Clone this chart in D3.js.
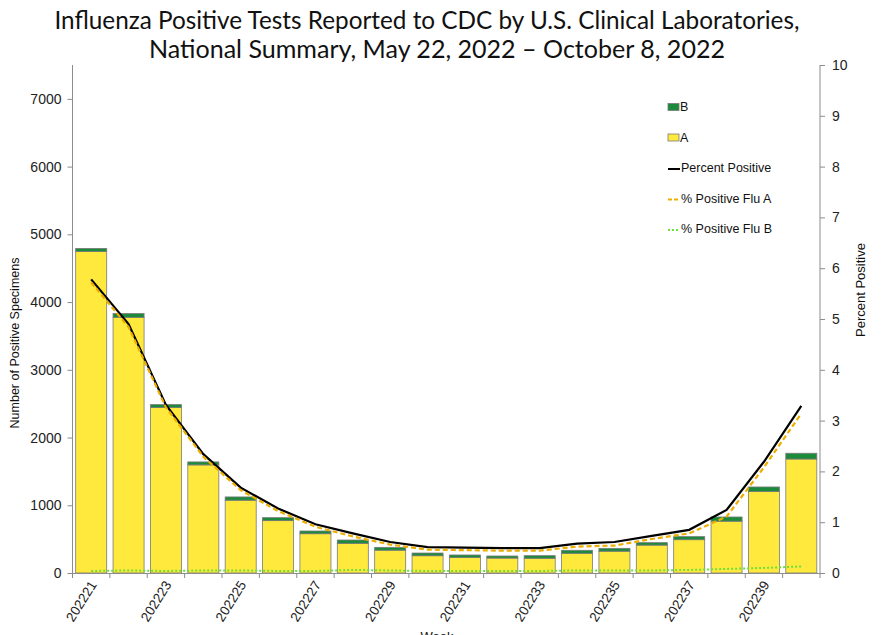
<!DOCTYPE html>
<html><head><meta charset="utf-8">
<script src="https://cdn.jsdelivr.net/npm/d3@7"></script>
<style>body{margin:0;background:#fff}svg{display:block}</style>
</head><body>
<svg id="c" width="884" height="635"></svg>
<script>
const weeks = ["202221","202222","202223","202224","202225","202226","202227","202228","202229","202230","202231","202232","202233","202234","202235","202236","202237","202238","202239","202240"];
const fluA = [4747,3775,2442,1596,1075,773,580,438,337,255,231,221,218,291,322,412,492,765,1205,1683];
const fluB = [45,55,44,44,48,44,40,49,42,40,35,30,38,44,42,36,45,62,65,85];
const pctPositive = [5.78,4.90,3.31,2.34,1.68,1.27,0.96,0.78,0.61,0.51,0.50,0.49,0.49,0.58,0.61,0.73,0.85,1.24,2.19,3.29];
const pctFluA = [5.72,4.84,3.26,2.29,1.63,1.22,0.91,0.72,0.56,0.46,0.45,0.44,0.44,0.52,0.54,0.67,0.78,1.11,2.08,3.14];
const pctFluB = [0.04,0.05,0.04,0.05,0.05,0.04,0.04,0.06,0.05,0.04,0.04,0.04,0.04,0.05,0.05,0.05,0.06,0.08,0.10,0.13];
const leftTicks = [0,1000,2000,3000,4000,5000,6000,7000];
const rightTicks = [0,1,2,3,4,5,6,7,8,9,10];
const labelWeeks = ["202221","202223","202225","202227","202229","202231","202233","202235","202237","202239"];

const svg = d3.select("#c");
const L = 72.5, R = 820, T = 65, B = 573;
const x = d3.scaleBand().domain(weeks).range([L, R]).paddingInner(0.17).paddingOuter(0.085);
const xb = d3.scaleBand().domain(weeks).range([L, R]);
const yL = d3.scaleLinear().domain([0, 7500]).range([B, T]);
const yR = d3.scaleLinear().domain([0, 10]).range([B, T]);
const font = "'Liberation Sans', Arial, sans-serif";
const gray = "#8c8c8c";

// Title
const title = svg.append("g").attr("font-family", "Lato, 'Open Sans', sans-serif").attr("fill", "#111").attr("font-size", 25.5);
title.append("text").attr("x", 427).attr("y", 29).attr("text-anchor", "middle")
  .attr("textLength", 745).attr("lengthAdjust", "spacingAndGlyphs")
  .text("Influenza Positive Tests Reported to CDC by U.S. Clinical Laboratories,");
title.append("text").attr("x", 437).attr("y", 58).attr("text-anchor", "middle")
  .attr("textLength", 576).attr("lengthAdjust", "spacingAndGlyphs")
  .text("National Summary, May 22, 2022 \u2013 October 8, 2022");

// Bars
const stackData = weeks.map((w, i) => ({week: w, A: fluA[i], B: fluB[i]}));
const stack = d3.stack().keys(["A", "B"])(stackData);
const colors = {A: "#FFE93C", B: "#1B8A3A"};
svg.append("g").selectAll("g").data(stack).join("g")
  .attr("fill", d => colors[d.key])
  .selectAll("rect").data(d => d).join("rect")
  .attr("x", d => x(d.data.week))
  .attr("width", x.bandwidth())
  .attr("y", d => yL(d[1]))
  .attr("height", d => yL(d[0]) - yL(d[1]))
  .attr("stroke", "#7a7a7a").attr("stroke-width", 0.8);

// Lines
const cx = w => xb(w) + xb.bandwidth() / 2;
const line = d3.line().x((d, i) => cx(weeks[i])).y(d => yR(d));
svg.append("path").datum(pctFluB).attr("d", line).attr("fill", "none")
  .attr("stroke", "#6BE03A").attr("stroke-width", 2).attr("stroke-dasharray", "2,2");
svg.append("path").datum(pctPositive).attr("d", line).attr("fill", "none")
  .attr("stroke", "#000").attr("stroke-width", 2.2);
svg.append("path").datum(pctFluA).attr("d", line).attr("fill", "none")
  .attr("stroke", "#EDAE00").attr("stroke-width", 2.2).attr("stroke-dasharray", "5,3");

// Axes
const axL = svg.append("g").attr("transform", `translate(${L},0)`)
  .call(d3.axisLeft(yL).tickValues(leftTicks).tickSize(5).tickPadding(6).tickFormat(d3.format("d")));
const axR = svg.append("g").attr("transform", `translate(${R},0)`)
  .call(d3.axisRight(yR).tickValues(rightTicks).tickSize(5).tickPadding(7));
const axB = svg.append("g").attr("transform", `translate(0,${B})`)
  .call(d3.axisBottom(xb).tickValues([]).tickSizeOuter(0));
axB.selectAll(".bt").data(weeks.concat(["end"])).join("line").attr("class", "bt")
  .attr("x1", (d, i) => L + i * xb.step()).attr("x2", (d, i) => L + i * xb.step())
  .attr("y1", 0).attr("y2", 5).attr("stroke", gray);
axB.selectAll(".lbl").data(labelWeeks).join("text").attr("class", "lbl")
  .attr("transform", d => `translate(${cx(d) + 2},${9}) rotate(-58)`)
  .attr("text-anchor", "end").attr("dy", "0.35em")
  .attr("font-family", font).attr("font-size", 13.5).attr("fill", "#222").text(d => d);

[axL, axR, axB].forEach(a => {
  a.selectAll("path.domain").attr("stroke", gray);
  a.selectAll(".tick line").attr("stroke", gray);
  a.selectAll(".tick text").attr("font-family", font).attr("font-size", 14).attr("fill", "#222");
});
axL.select("path.domain").attr("d", `M0,${T}V${B + 4}`);
axR.select("path.domain").attr("d", `M0,${T}V${B}`);

// Axis titles
svg.append("text").attr("transform", "translate(19,343) rotate(-90)").attr("text-anchor", "middle")
  .attr("font-family", font).attr("font-size", 12.5).attr("fill", "#111").text("Number of Positive Specimens");
svg.append("text").attr("transform", "translate(865,290) rotate(-90)").attr("text-anchor", "middle")
  .attr("font-family", font).attr("font-size", 13).attr("fill", "#111").text("Percent Positive");
svg.append("text").attr("x", 437).attr("y", 641).attr("text-anchor", "middle")
  .attr("font-family", font).attr("font-size", 13).attr("fill", "#111").text("Week");

// Legend
const legendItems = [
  {label: "B", type: "rect", color: colors.B},
  {label: "A", type: "rect", color: colors.A},
  {label: "Percent Positive", type: "line", color: "#000", dash: null},
  {label: "% Positive Flu A", type: "line", color: "#EDAE00", dash: "4,2"},
  {label: "% Positive Flu B", type: "line", color: "#6BE03A", dash: "2,2"}
];
const lg = svg.append("g").attr("font-family", font).attr("font-size", 12.5).attr("fill", "#111");
legendItems.forEach((d, i) => {
  const yy = 107 + i * 30.5;
  if (d.type === "rect") {
    lg.append("rect").attr("x", 668).attr("y", yy - 3.5).attr("width", 11).attr("height", 7)
      .attr("fill", d.color).attr("stroke", "#7a7a7a").attr("stroke-width", 0.8);
  } else {
    lg.append("line").attr("x1", 668).attr("x2", 680).attr("y1", yy + 1).attr("y2", yy + 1)
      .attr("stroke", d.color).attr("stroke-width", 2).attr("stroke-dasharray", d.dash);
  }
  lg.append("text").attr("x", d.type === "rect" ? 680 : 681).attr("y", yy).attr("dy", "0.35em").text(d.label);
});
</script>
</body></html>
